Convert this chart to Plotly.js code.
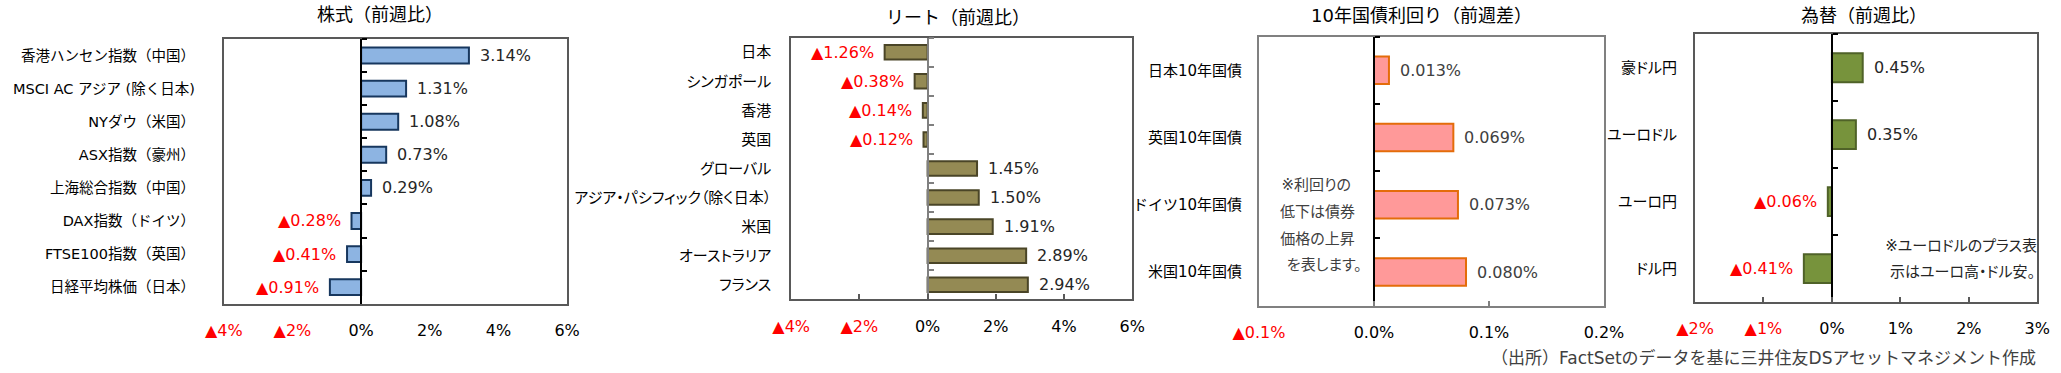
<!DOCTYPE html>
<html>
<head>
<meta charset="utf-8">
<script src="https://cdn.plot.ly/plotly-3.0.1.min.js"></script>
<style>
  html, body { margin: 0; padding: 0; background: #fff; }
  #chart { width: 2061px; height: 373px; }
  #chart .y2tick text, #chart .y4tick text { font-feature-settings: "palt" 1; }
</style>
</head>
<body>
<div id="chart"></div>
<script>
// ---------- data ----------
const stockCats = ['香港ハンセン指数（中国）', 'MSCI AC アジア (除く日本)', 'NYダウ（米国）', 'ASX指数（豪州）',
                   '上海総合指数（中国）', 'DAX指数（ドイツ）', 'FTSE100指数（英国）', '日経平均株価（日本）'];
const stockVals = [3.14, 1.31, 1.08, 0.73, 0.29, -0.28, -0.41, -0.91];

const reitCats = ['日本', 'シンガポール', '香港', '英国', 'グローバル', 'アジア・パシフィック（除く日本）',
                  '米国', 'オーストラリア', 'フランス'];
const reitVals = [-1.26, -0.38, -0.14, -0.12, 1.45, 1.50, 1.91, 2.89, 2.94];

const bondCats = ['日本10年国債', '英国10年国債', 'ドイツ10年国債', '米国10年国債'];
const bondVals = [0.013, 0.069, 0.073, 0.080];

const fxCats = ['豪ドル円', 'ユーロドル', 'ユーロ円', 'ドル円'];
const fxVals = [0.45, 0.35, -0.06, -0.41];

const stockTicks = [-4, -2, 0, 2, 4, 6];
const reitTicks = [-4, -2, 0, 2, 4, 6];
const bondTicks = [-0.1, 0.0, 0.1, 0.2];
const fxTicks = [-2, -1, 0, 1, 2, 3];

const titles = ['株式（前週比）', 'リート（前週比）', '10年国債利回り（前週差）', '為替（前週比）'];
const bondNote = ['※利回りの', '低下は債券', '価格の上昇', 'を表します。'];
const fxNote = ['※ユーロドルのプラス表', '示はユーロ高・ドル安。'];
const sourceText = '（出所）FactSetのデータを基に三井住友DSアセットマネジメント作成';

// ---------- styling / layout ----------
const W = 2061, H = 373;
const FONT = 'DejaVu Sans, "Noto Sans CJK JP", sans-serif';
const RED = '#FF0000';

const panels = [
  { cats: stockCats, vals: stockVals, ticks: stockTicks, range: [-4, 6], dec: 2, tdec: 0,
    box: [223.8, 39, 567.1, 303.7], fill: '#8DB4E2', line: '#17375E', zero: '#000000', bw: 0.48,
    frame: '#595959', xt: '', ystand: 24, yfs: 14.5, title: [380, 14.5], txt: '#262626' },
  { cats: reitCats, vals: reitVals, ticks: reitTicks, range: [-4, 6], dec: 2, tdec: 0,
    box: [791.2, 37.7, 1132.2, 299.3], fill: '#948A54', line: '#4A4527', zero: '#808080', bw: 0.5,
    frame: '#595959', xt: 'inside', ystand: 15, yfs: 15, title: [957.6, 17], txt: '#262626' },
  { cats: bondCats, vals: bondVals, ticks: bondTicks, range: [-0.1, 0.2], dec: 3, tdec: 1,
    box: [1259, 36.7, 1604, 305.7], fill: '#FF9999', line: '#E46C0A', zero: '#000000', bw: 0.41,
    frame: '#808080', xt: 'inside', ystand: 12, yfs: 15, title: [1421.7, 15], txt: '#404040' },
  { cats: fxCats, vals: fxVals, ticks: fxTicks, range: [-2, 3], dec: 2, tdec: 0,
    box: [1695, 34.3, 2037.3, 302], fill: '#77933C', line: '#4F6228', zero: '#000000', bw: 0.43,
    frame: '#595959', xt: 'inside', ystand: 13, yfs: 15, title: [1864, 15], txt: '#262626' }
];

function fmt(v, d) {
  return v < 0 ? '▲' + Math.abs(v).toFixed(d) + '%' : v.toFixed(d) + '%';
}

const data = [];
const layout = {
  width: W, height: H,
  margin: { l: 0, r: 0, t: 0, b: 0 },
  paper_bgcolor: '#ffffff', plot_bgcolor: '#ffffff',
  font: { family: FONT, size: 15, color: '#000000' },
  showlegend: false,
  annotations: [],
  bargap: 0.5
};

panels.forEach((p, idx) => {
  const k = idx + 1;
  const xk = k === 1 ? 'x' : 'x' + k;
  const yk = k === 1 ? 'y' : 'y' + k;
  const yo = 'y' + (k + 4);
  const n = p.cats.length;
  const xd = [p.box[0] / W, p.box[2] / W];
  const yd = [1 - p.box[3] / H, 1 - p.box[1] / H];

  data.push({
    type: 'bar', orientation: 'h', x: p.vals, y: p.cats, xaxis: xk, yaxis: yk,
    width: p.bw, hoverinfo: 'none',
    marker: { color: p.fill, line: { color: p.line, width: 2 } }
  });
  data.push({
    type: 'scatter', mode: 'none', x: p.vals, y: p.cats, xaxis: xk, yaxis: yo, hoverinfo: 'skip'
  });

  layout[k === 1 ? 'xaxis' : 'xaxis' + k] = {
    domain: xd, anchor: yk, range: p.range, fixedrange: true,
    showline: true, mirror: true, linecolor: p.frame, linewidth: 2,
    zeroline: false, showgrid: false,
    tickmode: 'array', tickvals: p.ticks,
    ticktext: p.ticks.map(t => t < 0 ? '<span style="color:' + RED + '">' + fmt(t, p.tdec) + '</span>' : fmt(t, p.tdec)),
    ticks: p.xt, ticklen: 5, tickwidth: 2, tickcolor: p.frame,
    tickfont: { family: FONT, size: 16, color: '#000000' },
    ticklabelstandoff: 11
  };
  layout[k === 1 ? 'yaxis' : 'yaxis' + k] = {
    domain: yd, anchor: xk, type: 'category', range: [n - 0.5, -0.5], fixedrange: true,
    showline: true, mirror: true, linecolor: p.frame, linewidth: 2,
    showgrid: false, zeroline: false, ticks: '',
    tickfont: { family: FONT, size: p.yfs, color: '#000000' },
    ticklabelstandoff: p.ystand
  };
  const zeroPos = xd[0] + (0 - p.range[0]) / (p.range[1] - p.range[0]) * (xd[1] - xd[0]);
  layout['yaxis' + (k + 4)] = {
    type: 'category', overlaying: yk, anchor: 'free', position: zeroPos, side: 'right',
    range: [n - 0.5, -0.5], fixedrange: true,
    showline: true, linecolor: p.zero, linewidth: 2,
    ticks: 'outside', ticklen: 5, tickwidth: 2, tickcolor: p.zero, tickson: 'boundaries',
    showticklabels: false, showgrid: false, zeroline: false
  };

  // value labels
  p.vals.forEach((v, i) => {
    layout.annotations.push({
      xref: xk, yref: yk, x: v, y: i, text: fmt(v, p.dec), showarrow: false,
      xanchor: v >= 0 ? 'left' : 'right', xshift: v >= 0 ? 9 : -9,
      font: { family: FONT, size: 16, color: v >= 0 ? p.txt : RED }
    });
  });

  // title
  layout.annotations.push({
    xref: 'paper', yref: 'paper', x: p.title[0] / W, y: 1 - p.title[1] / H,
    xanchor: 'center', yanchor: 'middle', text: titles[idx], showarrow: false,
    font: { family: FONT, size: 18, color: '#000000' }
  });
});

// notes (proportional kana)
const paltIdx = [];
bondNote.forEach((t, i) => {
  paltIdx.push(layout.annotations.length);
  layout.annotations.push({
    xref: 'paper', yref: 'paper', x: 1278 / W, y: 1 - (185 + i * 26.8) / H,
    xanchor: 'left', yanchor: 'middle', text: t, showarrow: false,
    font: { family: FONT, size: 15, color: '#404040' }
  });
});
fxNote.forEach((t, i) => {
  paltIdx.push(layout.annotations.length);
  layout.annotations.push({
    xref: 'paper', yref: 'paper', x: 1878 / W, y: 1 - (246 + i * 26) / H,
    xanchor: 'left', yanchor: 'middle', text: t, showarrow: false,
    font: { family: FONT, size: 15, color: '#262626' }
  });
});
layout.annotations.push({
  xref: 'paper', yref: 'paper', x: 2038 / W, y: 1 - 358 / H,
  xanchor: 'right', yanchor: 'middle', text: sourceText, showarrow: false,
  font: { family: FONT, size: 17, color: '#404040' }
});

const st = document.createElement('style');
st.textContent = paltIdx.map(i => '#chart g.annotation[data-index="' + i + '"] text').join(',') +
  ' { font-feature-settings: "palt" 1; }';
document.head.appendChild(st);

Plotly.newPlot('chart', data, layout, { displayModeBar: false, staticPlot: true });
</script>
</body>
</html>
